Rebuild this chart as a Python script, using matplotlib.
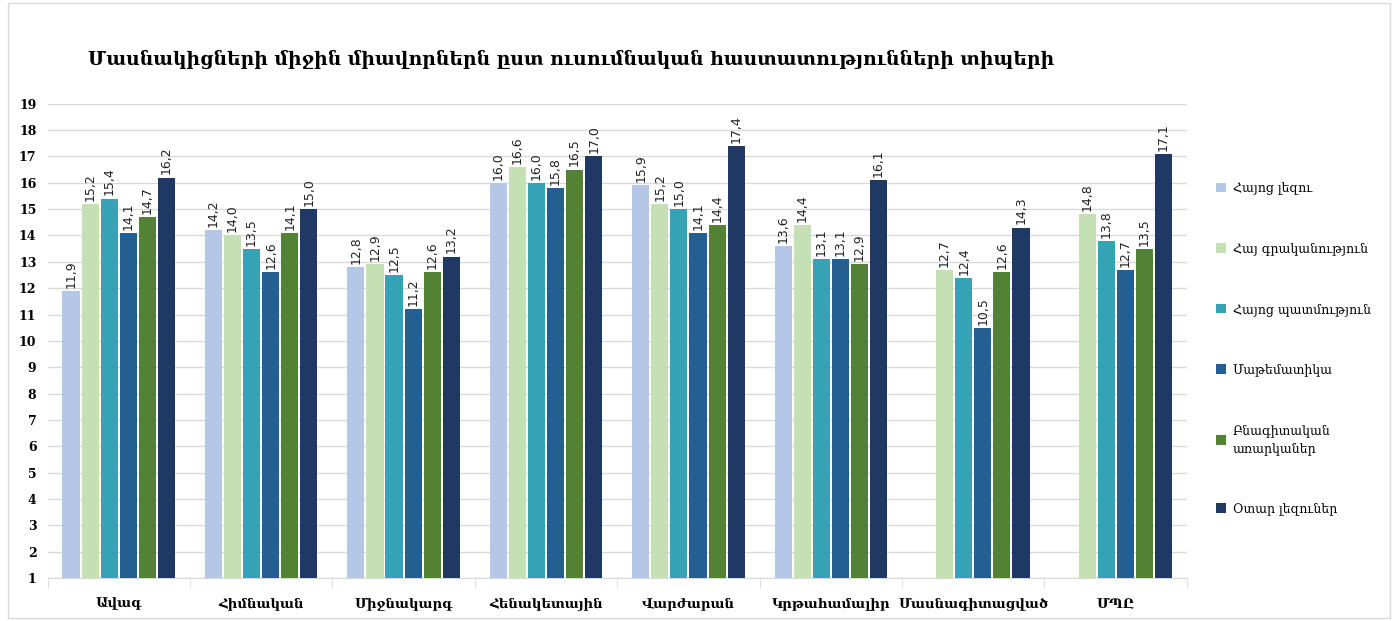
import matplotlib.pyplot as plt
import numpy as np
from matplotlib.patches import Rectangle

# data
categories = ['Ավագ', 'Հիմնական', 'Միջնակարգ', 'Հենակետային', 'Վարժարան',
              'Կրթահամալիր', 'Մասնագիտացված', 'ՄՊԸ']
subjects = ['Հայոց լեզու', 'Հայ գրականություն', 'Հայոց պատմություն',
            'Մաթեմատիկա', 'Բնագիտական\nառարկաներ', 'Օտար լեզուներ']
hayoc_lezu = [11.9, 14.2, 12.8, 16.0, 15.9, 13.6, np.nan, np.nan]
hay_grakanutyun = [15.2, 14.0, 12.9, 16.6, 15.2, 14.4, 12.7, 14.8]
hayoc_patmutyun = [15.4, 13.5, 12.5, 16.0, 15.0, 13.1, 12.4, 13.8]
matematika = [14.1, 12.6, 11.2, 15.8, 14.1, 13.1, 10.5, 12.7]
bnagitakan = [14.7, 14.1, 12.6, 16.5, 14.4, 12.9, 12.6, 13.5]
otar_lezuner = [16.2, 15.0, 13.2, 17.0, 17.4, 16.1, 14.3, 17.1]
series = [hayoc_lezu, hay_grakanutyun, hayoc_patmutyun, matematika, bnagitakan, otar_lezuner]
colors = ['#B4C7E7', '#C5E0B4', '#35A3B5', '#255E91', '#548235', '#1F3864']

plt.rcParams['font.family'] = ['DejaVu Serif']

fig = plt.figure(figsize=(13.98, 6.21), dpi=100)
ax = fig.add_axes([0.034, 0.069, 0.815, 0.764])

x = np.arange(len(categories))
step = 0.134
width = 0.12
base = 1
for i, (vals, col, name) in enumerate(zip(series, colors, subjects)):
    vals = np.array(vals, dtype=float)
    pos = x + (i - 2.5) * step
    h = vals - base
    ax.bar(pos, h, width, bottom=base, color=col, label=name, zorder=3)
    for p, v in zip(pos, vals):
        if np.isnan(v):
            continue
        ax.text(p, v + 0.12, ('%.1f' % v).replace('.', ','), rotation=90,
                ha='center', va='bottom', fontsize=9, family='DejaVu Sans',
                color='#222222')

ax.set_xlim(-0.5, len(categories) - 0.5)
ax.set_ylim(1, 19)
ax.set_yticks(range(1, 20))
ax.set_yticklabels([str(v) for v in range(1, 20)], fontsize=9, fontweight='bold')
ax.yaxis.grid(True, color='#D9D9D9', linewidth=1, zorder=0)
ax.tick_params(axis='y', length=0, pad=8)

ax.set_xticks(x)
ax.set_xticklabels(categories, fontsize=9.5, fontweight='bold')
ax.set_xticks(np.arange(-0.5, len(categories)), minor=True)
ax.tick_params(axis='x', which='major', length=0, pad=14)
ax.tick_params(axis='x', which='minor', length=7, color='#D9D9D9')

for s in ['top', 'right', 'left']:
    ax.spines[s].set_visible(False)
ax.spines['bottom'].set_color('#D9D9D9')

fig.text(0.063, 0.905, 'Մասնակիցների միջին միավորներն ըստ ուսումնական հաստատությունների տիպերի',
         fontsize=13.5, fontweight='bold', ha='left', va='center')

leg = fig.legend(loc='upper left', bbox_to_anchor=(0.862, 0.725), frameon=False,
                 fontsize=9, labelspacing=3.8, handlelength=0.8, handleheight=0.8,
                 handletextpad=0.5)
for t in leg.get_texts():
    t.set_linespacing(1.5)

fig.patches.append(Rectangle((0.006, 0.005), 0.988, 0.99, transform=fig.transFigure,
                             fill=False, edgecolor='#D9D9D9', linewidth=1))

fig.savefig('out.png', dpi=100)
